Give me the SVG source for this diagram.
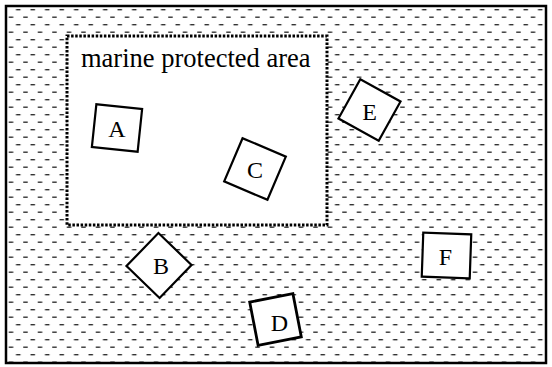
<svg xmlns="http://www.w3.org/2000/svg" width="552" height="367" viewBox="0 0 552 367">
<defs>
<pattern id="water" x="0" y="9" width="14.5" height="15" patternUnits="userSpaceOnUse">
<rect x="1.5" y="0" width="4.5" height="1.4" fill="#333"/>
<rect x="8.75" y="7.5" width="4.5" height="1.4" fill="#333"/>
</pattern>
<style>
.box{fill:#fff;stroke:#000;stroke-width:2.2}
.lbl{font-family:"Liberation Serif","Times New Roman",serif;font-size:24px;fill:#000;text-anchor:middle;dominant-baseline:central}
</style>
</defs>
<rect x="0" y="0" width="552" height="367" fill="#fff"/>
<rect x="6" y="6" width="540" height="357" fill="url(#water)" stroke="#000" stroke-width="2.5"/>
<g id="mpa">
<rect x="67" y="36" width="260" height="189" fill="#fff" stroke="#000" stroke-width="3" stroke-dasharray="2.5 1.6"/>
<text x="81" y="67" font-family="'Liberation Serif','Times New Roman',serif" font-size="26.5" fill="#000">marine protected area</text>
</g>
<g id="connectors"></g>
<g id="node-A" transform="translate(117,128)">
<rect class="box" x="-23" y="-21.5" width="46" height="43" transform="rotate(6)"/>
<text class="lbl" x="0" y="1">A</text>
</g>
<g id="node-C" transform="translate(255,169)">
<rect class="box" x="-23.5" y="-23.5" width="47" height="47" transform="rotate(23)"/>
<text class="lbl" x="0" y="1">C</text>
</g>
<g id="node-E" transform="translate(369.5,110)">
<rect class="box" x="-23" y="-22.5" width="46" height="45" transform="rotate(29)"/>
<text class="lbl" x="0" y="2">E</text>
</g>
<g id="node-B" transform="translate(159,265.5)">
<rect class="box" x="-23" y="-23" width="46" height="46" transform="rotate(44)"/>
<text class="lbl" x="2" y="0">B</text>
</g>
<g id="node-D" transform="translate(275.5,319.5)">
<rect class="box" x="-22" y="-22" width="44" height="44" transform="rotate(-11)" style="stroke-width:2.8"/>
<text class="lbl" x="4" y="3">D</text>
</g>
<g id="node-F" transform="translate(446.5,255.5)">
<rect class="box" x="-24" y="-22" width="48" height="44" transform="rotate(2)"/>
<text class="lbl" x="-1" y="1">F</text>
</g>
</svg>
